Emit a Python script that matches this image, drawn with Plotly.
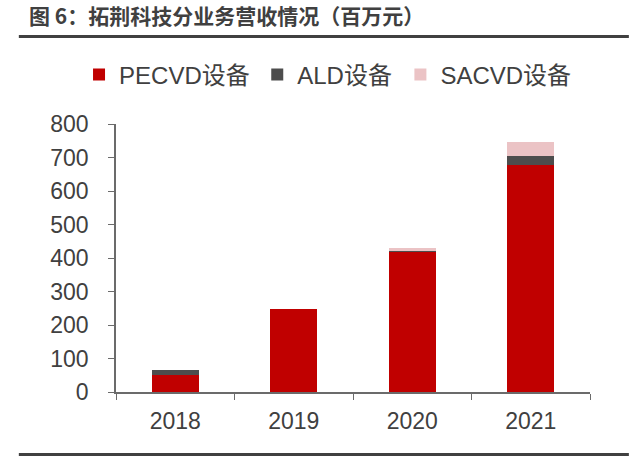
import plotly.graph_objects as go

years = ["2018", "2019", "2020", "2021"]
pecvd = [51, 248, 418, 677]
ald = [14, 0, 2, 27]
sacvd = [0, 0, 10, 42]

title_text = "图 6：拓荆科技分业务营收情况（百万元）"
font_main = "Liberation Sans, Arial, Noto Sans CJK SC, sans-serif"
text_color = "#404040"
axis_color = "#6b6b6b"

fig = go.Figure()
fig.add_trace(go.Bar(x=years, y=pecvd, name="PECVD设备", legend="legend",
                     marker=dict(color="#C00000", line=dict(width=0))))
fig.add_trace(go.Bar(x=years, y=ald, name="ALD设备", legend="legend2",
                     marker=dict(color="#4D4D4D", line=dict(width=0))))
fig.add_trace(go.Bar(x=years, y=sacvd, name="SACVD设备", legend="legend3",
                     marker=dict(color="#EBC3C5", line=dict(width=0))))

# one legend box per series so the spacing can follow the reference
leg_common = dict(orientation="h", y=1.183, yanchor="middle", xanchor="left",
                  font=dict(size=24, color=text_color), itemwidth=30,
                  bgcolor="rgba(0,0,0,0)")

fig.update_layout(
    barmode="stack",
    bargap=0.6,
    width=640,
    height=456,
    margin=dict(l=116, r=50, t=124, b=64),
    plot_bgcolor="white",
    paper_bgcolor="white",
    font=dict(family=font_main, size=23, color=text_color),
    showlegend=True,
    legend=dict(leg_common, x=-0.078),
    legend2=dict(leg_common, x=0.298),
    legend3=dict(leg_common, x=0.6),
    annotations=[dict(
        text="<b>" + title_text + "</b>",
        xref="paper", yref="paper",
        x=-0.187, y=1.405,
        xanchor="left", yanchor="middle",
        showarrow=False,
        font=dict(family="Noto Sans CJK SC, sans-serif", size=21, color="#404040"),
    )],
    shapes=[
        dict(type="line", xref="paper", yref="paper", x0=-0.205, x1=1.082, y0=1.3265, y1=1.3265,
             line=dict(color="#404040", width=3)),
        dict(type="line", xref="paper", yref="paper", x0=-0.205, x1=1.082, y0=-0.233, y1=-0.233,
             line=dict(color="#404040", width=3)),
    ],
)

fig.update_yaxes(
    range=[0, 800],
    dtick=100,
    showgrid=False,
    showline=True,
    linecolor=axis_color,
    linewidth=1.5,
    ticks="outside",
    ticklen=6,
    tickcolor=axis_color,
    zeroline=False,
    automargin=False,
    ticklabelstandoff=15,
    tickfont=dict(size=23, color=text_color),
)
fig.update_xaxes(
    showgrid=False,
    showline=True,
    linecolor=axis_color,
    linewidth=1.5,
    ticks="outside",
    tickson="boundaries",
    ticklen=6,
    tickcolor=axis_color,
    automargin=False,
    ticklabelstandoff=8,
    tickfont=dict(size=23, color=text_color),
)

fig.write_html("out.html", config={"displayModeBar": False},
               post_script="document.body.style.margin='0';")
